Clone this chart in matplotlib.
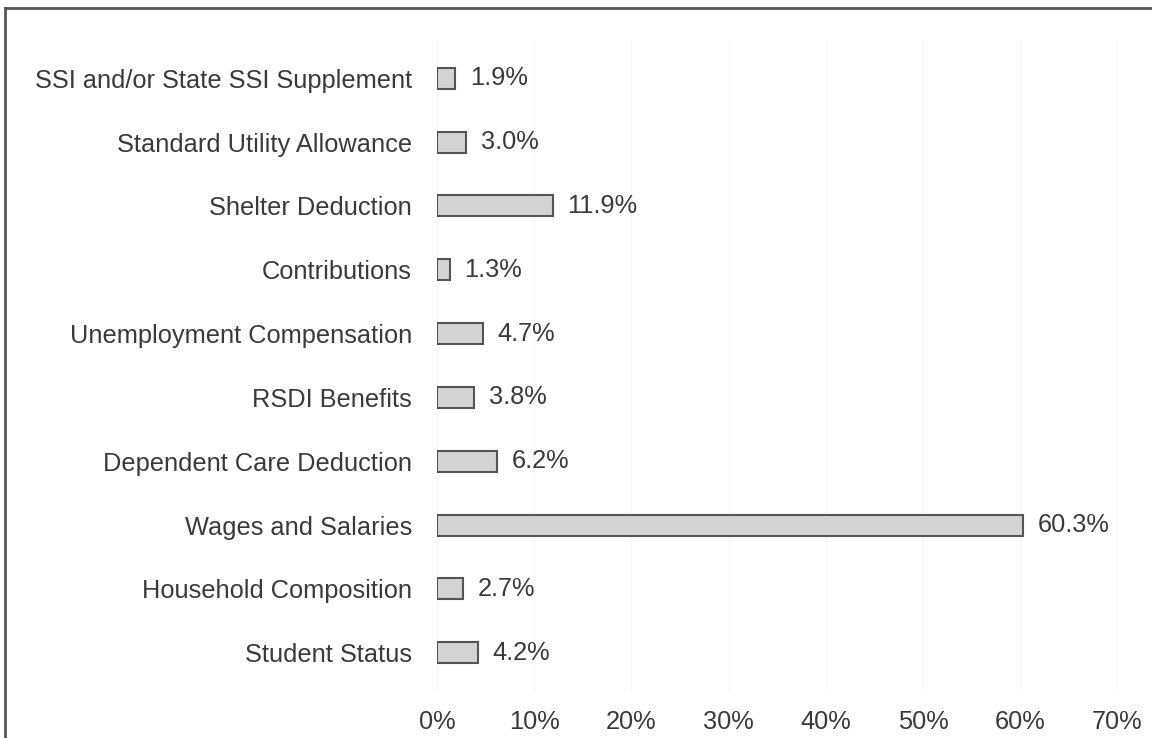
import matplotlib
matplotlib.use("Agg")
import matplotlib.pyplot as plt

categories = ["Student Status", "Household Composition", "Wages and Salaries",
              "Dependent Care Deduction", "RSDI Benefits", "Unemployment Compensation",
              "Contributions", "Shelter Deduction", "Standard Utility Allowance",
              "SSI and/or State SSI Supplement"]
values = [4.2, 2.7, 60.3, 6.2, 3.8, 4.7, 1.3, 11.9, 3.0, 1.9]
xticks = [0, 10, 20, 30, 40, 50, 60, 70]
xtick_labels = ["0%", "10%", "20%", "30%", "40%", "50%", "60%", "70%"]

plt.rcParams['font.family'] = ['Liberation Sans', 'DejaVu Sans']
W, H = 1152, 738
fig = plt.figure(figsize=(W/100, H/100), dpi=100)

left_px, right_px = 437, 1150
top_px, bot_px = 40, 691
ax = fig.add_axes([left_px/W, 1 - bot_px/H, (right_px-left_px)/W, (bot_px-top_px)/H])

txt = '#3a3a3a'
fs = 18.3
ax.barh(range(len(categories)), values, height=0.33, color='#d3d3d3',
        edgecolor='#555555', linewidth=1.5)
for i, v in enumerate(values):
    ax.text(v + 1.5, i, f"{v:.1f}%", va='center', ha='left', fontsize=fs, color=txt)

ax.set_xlim(0, (right_px-left_px)/9.72)
ax.set_ylim(-0.6, len(categories) - 0.4)
ax.set_yticks(range(len(categories)))
ax.set_yticklabels(categories, fontsize=fs, color=txt)
ax.set_xticks(xticks)
ax.set_xticklabels(xtick_labels, fontsize=fs, color=txt)
ax.tick_params(axis='y', length=0, pad=18)
ax.tick_params(axis='x', length=0, pad=14)
for s in ax.spines.values():
    s.set_visible(False)
ax.grid(axis='x', color='#f6f6f6', linewidth=1)
ax.set_axisbelow(True)

fig.add_artist(plt.Line2D([5/W, 5/W], [0, 1 - 8/H], transform=fig.transFigure,
                          color='#555555', linewidth=2))
fig.add_artist(plt.Line2D([5/W, 1], [1 - 8/H, 1 - 8/H], transform=fig.transFigure,
                          color='#555555', linewidth=2))

fig.savefig("out.png", dpi=100)
